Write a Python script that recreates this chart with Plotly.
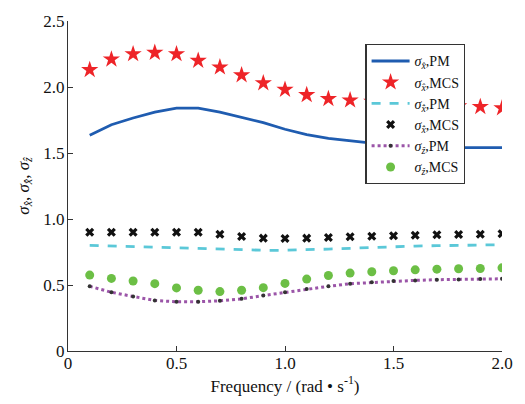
import plotly.graph_objects as go

freq = [0.1, 0.2, 0.3, 0.4, 0.5, 0.6, 0.7, 0.8, 0.9, 1.0,
        1.1, 1.2, 1.3, 1.4, 1.5, 1.6, 1.7, 1.8, 1.9, 2.0]

sx_pm = [1.634, 1.714, 1.765, 1.81, 1.84, 1.84, 1.81, 1.77, 1.73, 1.68,
         1.64, 1.61, 1.59, 1.575, 1.56, 1.55, 1.545, 1.54, 1.54, 1.54]
sx_mcs = [2.13, 2.21, 2.25, 2.26, 2.25, 2.20, 2.15, 2.09, 2.03, 1.98,
          1.94, 1.91, 1.90, 1.89, 1.88, 1.87, 1.86, 1.855, 1.85, 1.84]
sxd_pm = [0.800, 0.795, 0.790, 0.785, 0.778, 0.773, 0.768, 0.765, 0.763, 0.763,
          0.765, 0.772, 0.778, 0.785, 0.790, 0.795, 0.798, 0.800, 0.802, 0.805]
sxd_mcs = [0.90, 0.90, 0.90, 0.90, 0.90, 0.90, 0.885, 0.868, 0.855, 0.853,
           0.855, 0.86, 0.865, 0.87, 0.873, 0.877, 0.88, 0.883, 0.885, 0.888]
sz_pm = [0.49, 0.445, 0.413, 0.383, 0.373, 0.373, 0.38, 0.395, 0.42, 0.445,
         0.47, 0.49, 0.51, 0.52, 0.53, 0.535, 0.54, 0.542, 0.545, 0.547]
sz_mcs = [0.575, 0.55, 0.53, 0.51, 0.478, 0.46, 0.45, 0.46, 0.48, 0.512,
          0.545, 0.572, 0.59, 0.60, 0.608, 0.615, 0.62, 0.623, 0.625, 0.63]

x_ticks = [0, 0.5, 1.0, 1.5, 2.0]
x_ticklabels = ["0", "0.5", "1.0", "1.5", "2.0"]
y_ticks = [0, 0.5, 1.0, 1.5, 2.0, 2.5]
y_ticklabels = ["0", "0.5", "1.0", "1.5", "2.0", "2.5"]

SX = "<i>σ</i><sub><i>x̂</i></sub>"
SXD = "<i>σ</i><sub><i>x̂̇</i></sub>"
SZ = "<i>σ</i><sub><i>ẑ</i></sub>"

SERIF = "Times New Roman"

fig = go.Figure()
fig.add_trace(go.Scatter(x=freq, y=sx_pm, mode="lines", name=SX + ",PM",
                         line=dict(color="#1f5cb0", width=2.8)))
fig.add_trace(go.Scatter(x=freq, y=sx_mcs, mode="markers", name=SX + ",MCS",
                         marker=dict(symbol="star", size=13, color="#ee2428",
                                     line=dict(width=0))))
fig.add_trace(go.Scatter(x=freq, y=sxd_pm, mode="lines", name=SXD + ",PM",
                         line=dict(color="#5bc8d8", width=2.8, dash="dash")))
fig.add_trace(go.Scatter(x=freq, y=sxd_mcs, mode="markers", name=SXD + ",MCS",
                         marker=dict(symbol="x", size=8, color="#111111",
                                     line=dict(width=0))))
fig.add_trace(go.Scatter(x=freq, y=sz_pm, mode="lines+markers", name=SZ + ",PM",
                         line=dict(color="#9b55a8", width=3, dash="dot"),
                         marker=dict(symbol="circle", size=4, color="#333333",
                                     line=dict(width=0))))
fig.add_trace(go.Scatter(x=freq, y=sz_mcs, mode="markers", name=SZ + ",MCS",
                         marker=dict(symbol="circle", size=9, color="#6cbf45",
                                     line=dict(width=0))))

axis_font = dict(family=SERIF, size=17, color="#111111")

fig.update_layout(
    width=525, height=404,
    margin=dict(l=68, r=19, t=16, b=53),
    paper_bgcolor="white", plot_bgcolor="white",
    font=dict(family=SERIF, size=16, color="#111111"),
    showlegend=True,
    legend=dict(x=0.685, y=0.93, xanchor="left", yanchor="top",
                bgcolor="white", bordercolor="#333333", borderwidth=1.3,
                font=dict(family=SERIF, size=14, color="#111111"),
                tracegroupgap=0, itemwidth=38),
    xaxis=dict(range=[0, 2.0], tickvals=x_ticks, ticktext=x_ticklabels,
               ticks="inside", ticklen=5, tickcolor="#333333",
               ticklabelstandoff=-3,
               showline=True, linecolor="#333333", linewidth=1,
               showgrid=False, zeroline=False, tickfont=axis_font,
               title=dict(text="Frequency / (rad • s<sup>-1</sup>)",
                          font=axis_font, standoff=0)),
    yaxis=dict(range=[0, 2.5], tickvals=y_ticks, ticktext=y_ticklabels,
               ticks="inside", ticklen=5, tickcolor="#333333",
               ticklabelstandoff=-1,
               showline=True, linecolor="#333333", linewidth=1,
               showgrid=False, zeroline=False, tickfont=axis_font,
               title=dict(text=SX + ", " + SXD + ", " + SZ,
                          font=axis_font, standoff=9)),
)

fig.write_html("out.html")
